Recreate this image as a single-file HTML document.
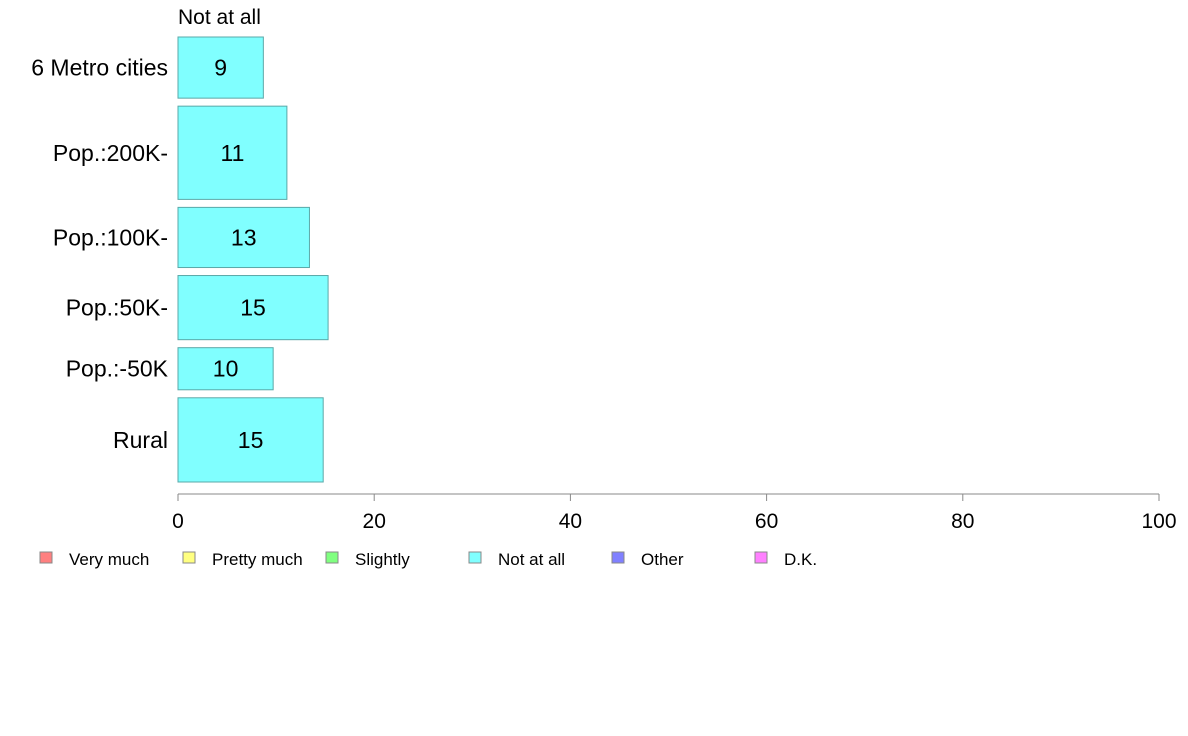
<!DOCTYPE html>
<html><head><meta charset="utf-8"><style>
body{margin:0;background:#fff;}
svg{display:block;font-family:"Liberation Sans",Arial,sans-serif;}
</style></head><body>
<svg id="chart" width="1188" height="736" viewBox="0 0 1188 736"></svg>
<script>
const categories=["6 Metro cities","Pop.:200K-","Pop.:100K-","Pop.:50K-","Pop.:-50K","Rural"];
const notAtAll=[8.7,11.1,13.4,15.3,9.7,14.8];
const weights=[61,93,60,64,42,84];
const xTicks=[0,20,40,60,80,100];
const legendLabels=["Very much","Pretty much","Slightly","Not at all","Other","D.K."];
const legendColors=["#ff8080","#ffff80","#80ff80","#80ffff","#8080ff","#ff80ff"];
const NS="http://www.w3.org/2000/svg";
const svg=document.getElementById('chart');
function mk(t,a,txt){const e=document.createElementNS(NS,t);for(const k in a)e.setAttribute(k,a[k]);if(txt!==undefined)e.textContent=txt;svg.appendChild(e);return e;}
const x0=178,x1=1159,yTop=37,yBot=482,gap=8;
const xs=v=>x0+(v/100)*(x1-x0);
const totalW=weights.reduce((a,b)=>a+b,0);
const avail=(yBot-yTop)-gap*(categories.length-1);
let y=yTop;
let t=mk('text',{x:178,y:24,'font-size':21,fill:'#000'},"Not at all");

categories.forEach((c,i)=>{
  const h=weights[i]/totalW*avail;
  const r=mk('rect',{x:x0,y:y,width:xs(notAtAll[i])-x0,height:h,fill:'#80ffff',stroke:'#5aa8a8','stroke-width':1});
  
  const v=mk('text',{x:(x0+xs(notAtAll[i]))/2,y:y+h/2+8,'font-size':23,'text-anchor':'middle',fill:'#000'},String(Math.round(notAtAll[i])));
  
  const l=mk('text',{x:168,y:y+h/2+8,'font-size':23,'text-anchor':'end',fill:'#000'},c);
  
  y+=h+gap;
});
const ax=mk('line',{x1:x0,x2:x1,y1:494,y2:494,stroke:'#888','stroke-width':1});

xTicks.forEach((v,i)=>{
  const tk=mk('line',{x1:xs(v),x2:xs(v),y1:494,y2:501,stroke:'#888'});
  
  const tl=mk('text',{x:xs(v),y:528,'font-size':21,'text-anchor':'middle',fill:'#000'},String(v));
  
});
legendLabels.forEach((lab,i)=>{
  const lx=40+i*143;
  const s=mk('rect',{x:lx,y:552,width:12,height:11,fill:legendColors[i],stroke:'#888'});
  
  const tx=mk('text',{x:lx+29,y:565,'font-size':17,fill:'#000'},lab);
  
});
</script>
</body></html>
